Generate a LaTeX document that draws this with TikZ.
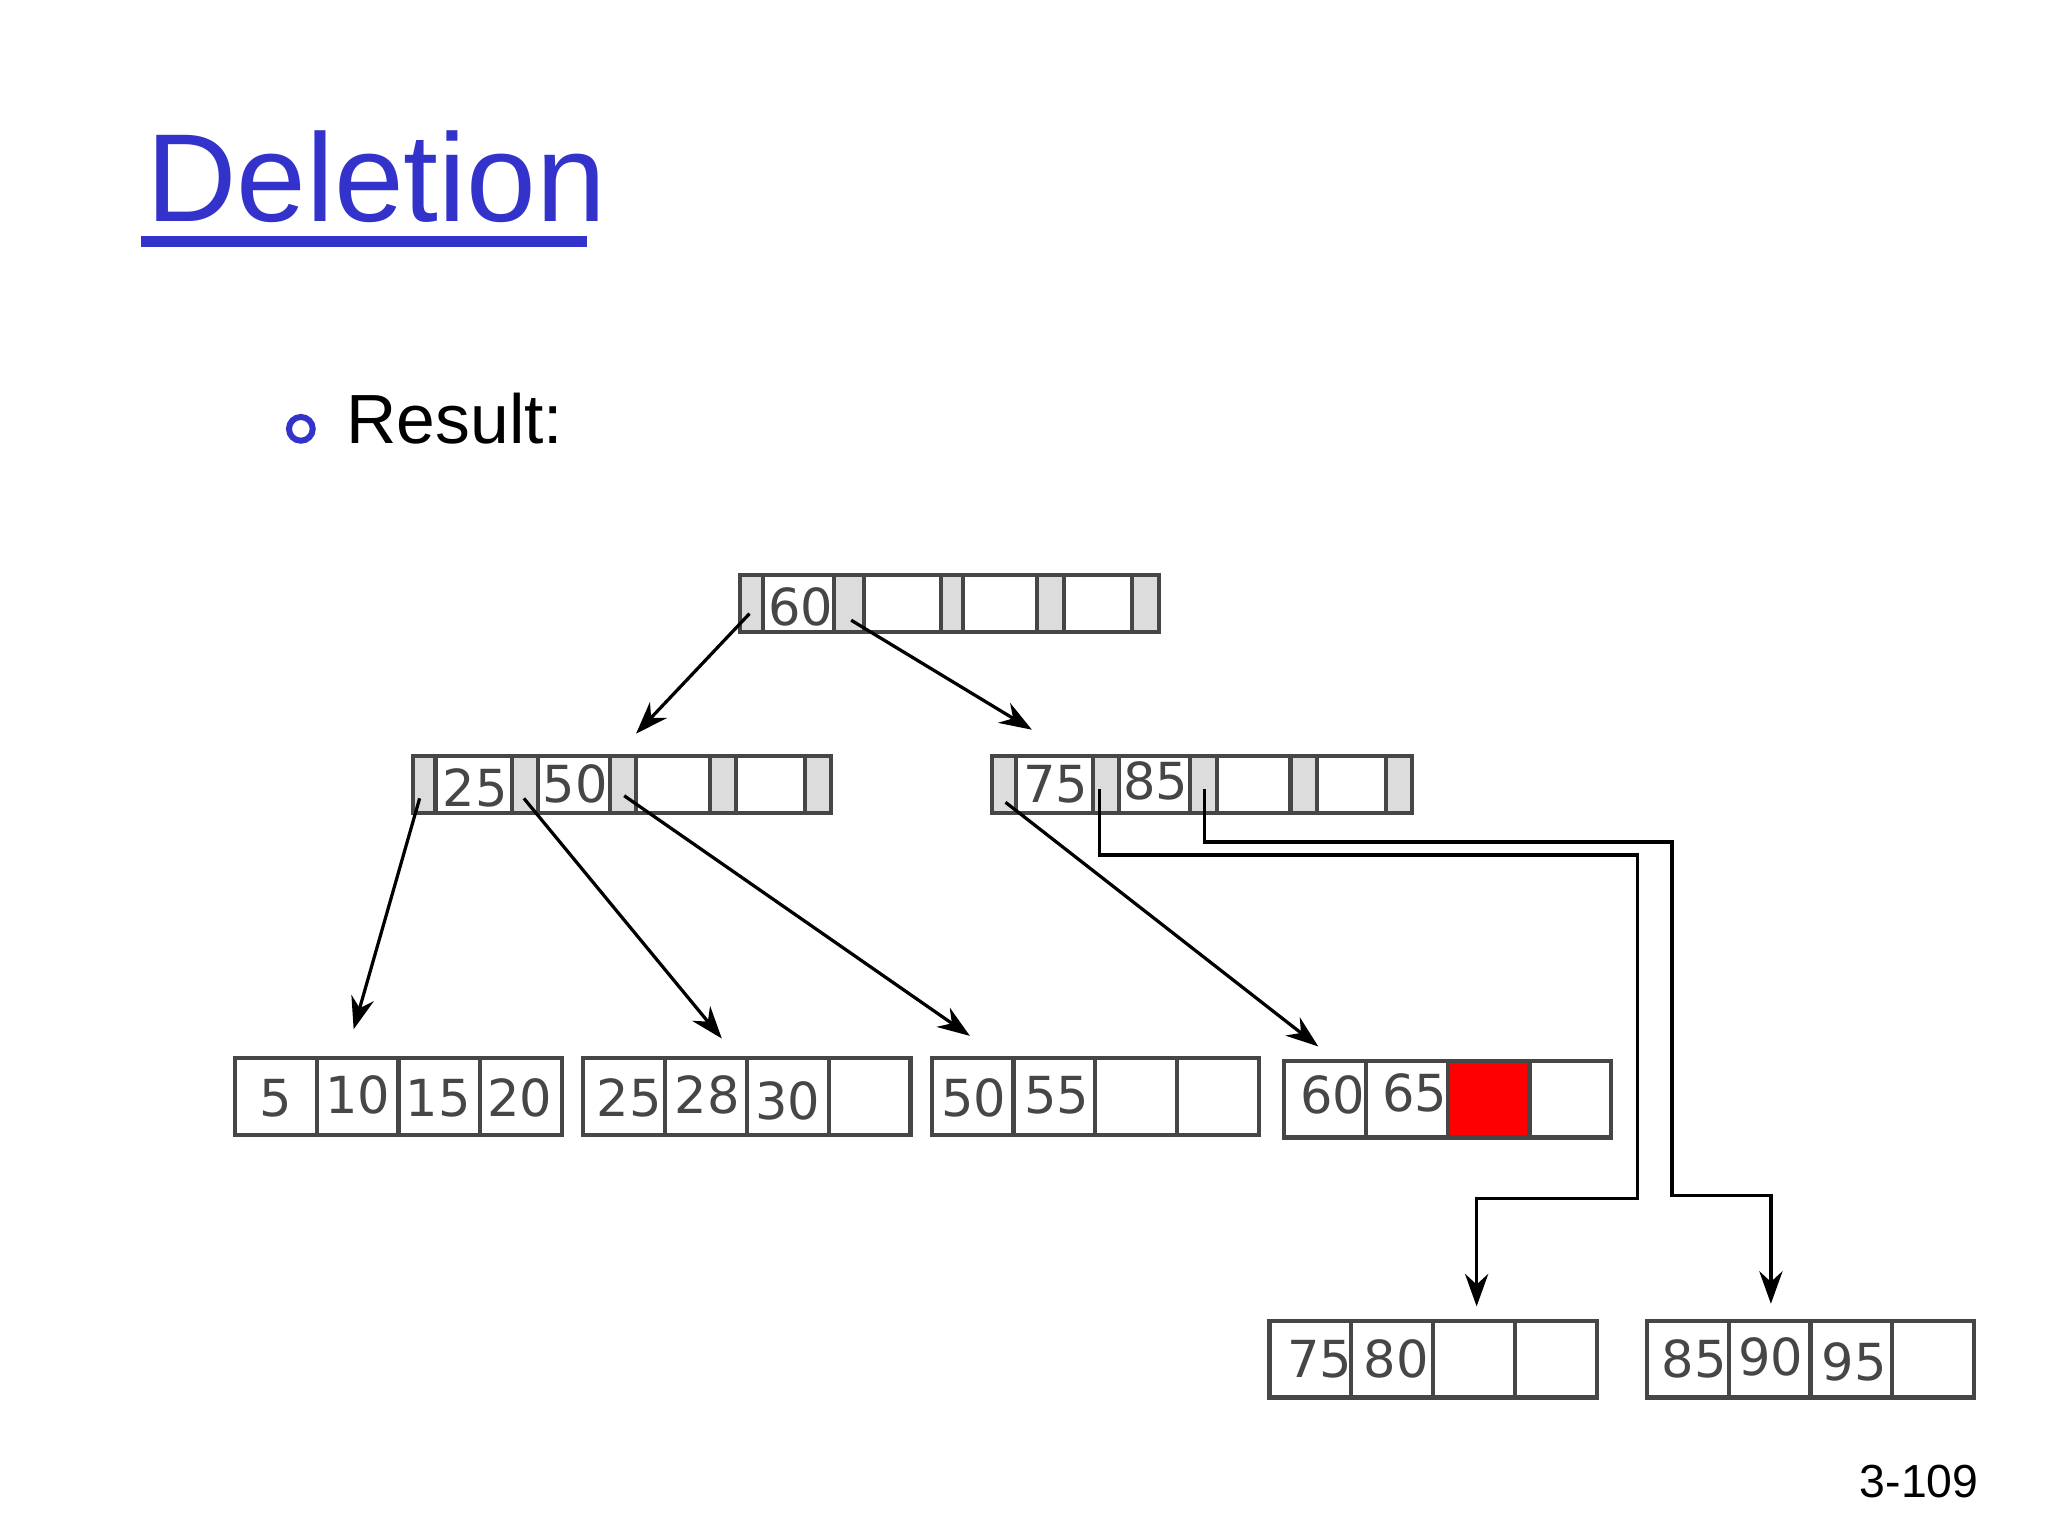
\documentclass[tikz,border=0pt]{standalone}
\usepackage{fontspec}
\setmainfont{Liberation Sans}
\newfontfamily\keyfont{DejaVu Sans}
\usetikzlibrary{arrows.meta}
\definecolor{titleblue}{RGB}{51,51,204}
\definecolor{ptrgray}{RGB}{220,220,220}
\definecolor{linegray}{RGB}{70,70,70}
\tikzset{
  cellbox/.style={draw=linegray, line width=0.9pt},
  ptrbox/.style={draw=linegray, fill=ptrgray, line width=0.9pt},
  keytxt/.style={font=\keyfont\fontsize{11}{11}\selectfont, text=linegray, inner sep=0pt},
  link/.style={draw=black, line width=0.7pt, -{Stealth[length=7pt,width=5pt]}},
}
\begin{document}
\begin{tikzpicture}[x=0.01cm,y=-0.01cm]
\useasboundingbox (0,0) rectangle (1552,1164);
% title
\node[anchor=base west, inner sep=0pt, text=titleblue, font=\fontsize{27}{27}\selectfont] (title) at (110,168) {Deletion};
\draw[titleblue, line width=2.5pt] (107,183) -- (445,183);
\draw[titleblue, line width=1.3pt] (228,325) circle (9);
\node[anchor=base west, inner sep=0pt, font=\fontsize{15}{15}\selectfont] (res) at (262,336) {Result:};
\node[anchor=base east, inner sep=0pt, font=\fontsize{10}{10}\selectfont] (pg) at (1500,1135) {3-109};
% internal nodes: gray/key alternating
\foreach \a/\b in {561/578,632/655,713/730,786/806,858/878,
                   313/330,388/408,462/482,538/558,610/630,
                   752/770,828/848,902/922,978/998,1050/1070}{
  \ifnum\a<700 \ifnum\b>640 \relax\fi\fi
}
\foreach \a/\b in {561/578,632/655,713/730,786/806,858/878}{\draw[ptrbox] (\a,436) rectangle (\b,479);}
\foreach \a/\b in {578/632,655/713,730/786,806/858}{\draw[cellbox] (\a,436) rectangle (\b,479);}
\foreach \a/\b in {313/330,388/408,462/482,538/558,610/630,752/770,828/848,902/922,978/998,1050/1070}{\draw[ptrbox] (\a,573) rectangle (\b,616);}
\foreach \a/\b in {330/388,408/462,482/538,558/610,770/828,848/902,922/978,998/1050}{\draw[cellbox] (\a,573) rectangle (\b,616);}
\node[keytxt] (k60) at (607,460) {60};
\node[keytxt] (k25) at (360,597) {25};
\node[keytxt] (k50) at (436,594) {50};
\node[keytxt] (k75) at (800,594) {75};
\node[keytxt] (k85) at (876,592) {85};
% leaves
\fill[red] (1097,804) rectangle (1158,862);
\foreach \x/\y/\n in {178/802/5, 442/802/5, 706/802/5, 973/804/5, 962/1001/5, 1248/1001/5}{
  \draw[cellbox] (\x,\y) rectangle ++(248,58);
  \foreach \i in {1,2,3}{\draw[cellbox] (\x+62*\i,\y) -- ++(0,58);}
}
\foreach \x/\y/\t in {209/832/5,271/830/10,332/832/15,394/832/20,
                      477/832/25,536/830/28,597/834/30,
                      738/832/50,801/830/55,
                      1010/830/60,1072/828/65,
                      1000/1030/75,1058/1030/80,
                      1284/1030/85,1342/1028/90,1405/1032/95}{
  \node[keytxt] at (\x,\y) {\t};
}
% pointer coordinates
\coordinate (r0) at (568,465); \coordinate (r1) at (645,470);
\coordinate (lt) at (482,556); \coordinate (rt) at (782,553);
\coordinate (a0) at (318,605); \coordinate (a1) at (397,605); \coordinate (a2) at (473,603);
\coordinate (l1) at (268,780); \coordinate (l2) at (547,787); \coordinate (l3) at (735,785);
\coordinate (b0) at (762,608); \coordinate (b1) at (833,598); \coordinate (b2) at (913,598);
\coordinate (l4) at (999,793); \coordinate (l5) at (1119,990); \coordinate (l6) at (1342,988);
\draw[link] (r0) -- (lt);
\draw[link] (r1) -- (rt);
\draw[link] (a0) -- (l1);
\draw[link] (a1) -- (l2);
\draw[link] (a2) -- (l3);
\draw[link] (b0) -- (l4);
\draw[link] (b1) |- (1241,648) |- (1119,908) -- (l5);
\draw[link] (b2) |- (1267,638) |- (1342,906) -- (l6);
\end{tikzpicture}
\end{document}
